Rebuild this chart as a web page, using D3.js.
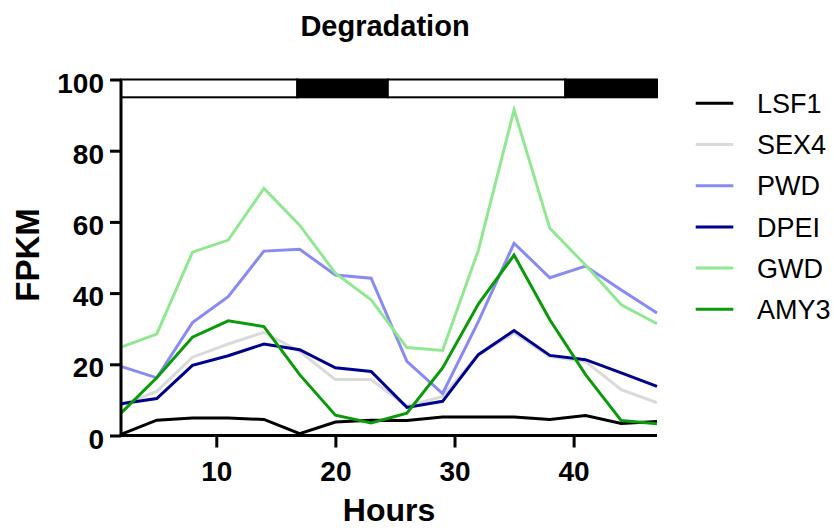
<!DOCTYPE html>
<html>
<head>
<meta charset="utf-8">
<script src="https://cdn.jsdelivr.net/npm/d3@7/dist/d3.min.js"></script>
<style>
  html, body { margin: 0; padding: 0; background: #fff; }
  svg { display: block; font-family: "Liberation Sans", Arial, sans-serif; }
</style>
</head>
<body>
<svg id="chart" width="834" height="528"></svg>
<script>
// ---- data ----
const hours = [2, 5, 8, 11, 14, 17, 20, 23, 26, 29, 32, 35, 38, 41, 44, 47];
const seriesNames = ["LSF1", "SEX4", "PWD", "DPEI", "GWD", "AMY3"];
const LSF1 = [0.3, 4.3, 4.9, 4.9, 4.5, 0.5, 3.8, 4.3, 4.2, 5.2, 5.2, 5.2, 4.5, 5.6, 3.4, 3.9];
const SEX4 = [8.6, 12.4, 22, 25.7, 29, 23.6, 15.7, 15.7, 8.2, 11, 22.7, 28.8, 22.2, 20.8, 12.9, 9.2];
const PWD  = [19.4, 16.2, 31.7, 39, 51.8, 52.3, 45.1, 44.2, 20.8, 11.8, 32, 54, 44.3, 47.6, 40.9, 34.4];
const DPEI = [8.9, 10.4, 19.7, 22.4, 25.7, 24.1, 19, 18, 7.9, 9.6, 22.7, 29.5, 22.5, 21.3, 17.6, 13.8];
const GWD  = [24.8, 28.5, 51.5, 54.9, 69.4, 59.1, 45.6, 38.1, 24.7, 23.9, 52, 91.5, 58.2, 47.9, 36.7, 31.4];
const AMY3 = [6.3, 16.2, 27.6, 32.2, 30.6, 17.1, 5.7, 3.5, 6.3, 19, 36.9, 50.7, 32.5, 17.1, 4.2, 3.3];
const seriesValues = [LSF1, SEX4, PWD, DPEI, GWD, AMY3];
const seriesColors = ["#000000", "#dadada", "#8a8af5", "#00008f", "#92e892", "#0a9a0a"];
// light/dark periods (hours)
const periodStarts = [2, 16.8, 24.4, 39.3];
const periodEnds   = [16.8, 24.4, 39.3, 47];
const periodDark   = [false, true, false, true];
const xTicks = [10, 20, 30, 40];
const yTicks = [0, 20, 40, 60, 80, 100];

// ---- layout ----
const svg = d3.select("#chart");
const mLeft = 121, mRight = 657, mTop = 79.5, mBottom = 435.5;
const x = d3.scaleLinear().domain([2, 47]).range([mLeft, mRight]);
const y = d3.scaleLinear().domain([0, 100]).range([mBottom, mTop]);

// title
svg.append("text")
  .attr("x", 385).attr("y", 35.5)
  .attr("text-anchor", "middle")
  .attr("font-size", 29).attr("font-weight", "bold")
  .text("Degradation");

// light/dark bar
const bar = svg.append("g");
periodStarts.forEach((s, i) => {
  bar.append("rect")
    .attr("x", x(s)).attr("y", y(100))
    .attr("width", x(periodEnds[i]) - x(s))
    .attr("height", y(95) - y(100))
    .attr("fill", periodDark[i] ? "#000" : "#fff")
    .attr("stroke", "#000").attr("stroke-width", 2);
});

// lines
const line = d3.line().x((d, i) => x(hours[i])).y(d => y(d));
seriesValues.forEach((vals, k) => {
  svg.append("path")
    .datum(vals)
    .attr("d", line)
    .attr("fill", "none")
    .attr("stroke", seriesColors[k])
    .attr("stroke-width", 3)
    .attr("stroke-linejoin", "miter");
});

// axes
const yAxis = svg.append("g")
  .attr("transform", `translate(${mLeft},0)`)
  .call(d3.axisLeft(y).tickValues(yTicks).tickSize(11).tickSizeOuter(0).tickPadding(6));
const xAxis = svg.append("g")
  .attr("transform", `translate(0,${mBottom})`)
  .call(d3.axisBottom(x).tickValues(xTicks).tickSize(12).tickSizeOuter(0).tickPadding(14));
[yAxis, xAxis].forEach(g => {
  g.select(".domain").attr("stroke", "#000").attr("stroke-width", 3);
  g.selectAll(".tick line").attr("stroke", "#000").attr("stroke-width", 3);
  g.selectAll(".tick text")
    .attr("font-family", "Liberation Sans, Arial, sans-serif")
    .attr("font-size", 28).attr("font-weight", "bold").attr("fill", "#000");
});
yAxis.selectAll(".tick text").attr("dy", "0.45em");
yAxis.select(".domain").attr("d", `M0,${mTop}V${mBottom + 1.5}`);
xAxis.select(".domain").attr("d", `M${-1.5 + mLeft},0H${mRight}`);

// axis titles
svg.append("text")
  .attr("x", 389).attr("y", 521)
  .attr("text-anchor", "middle")
  .attr("font-size", 32).attr("font-weight", "bold")
  .text("Hours");
svg.append("text")
  .attr("transform", "translate(39,255) rotate(-90)")
  .attr("text-anchor", "middle")
  .attr("font-size", 33).attr("font-weight", "bold")
  .text("FPKM");

// legend
const legend = svg.append("g");
seriesNames.forEach((name, k) => {
  const ly = 103.3 + k * 41.2;
  legend.append("line")
    .attr("x1", 695.7).attr("x2", 733.3)
    .attr("y1", ly).attr("y2", ly)
    .attr("stroke", seriesColors[k]).attr("stroke-width", 3);
  legend.append("text")
    .attr("x", 757).attr("y", ly).attr("dy", "0.36em")
    .attr("font-size", 27)
    .text(name);
});
</script>
</body>
</html>
